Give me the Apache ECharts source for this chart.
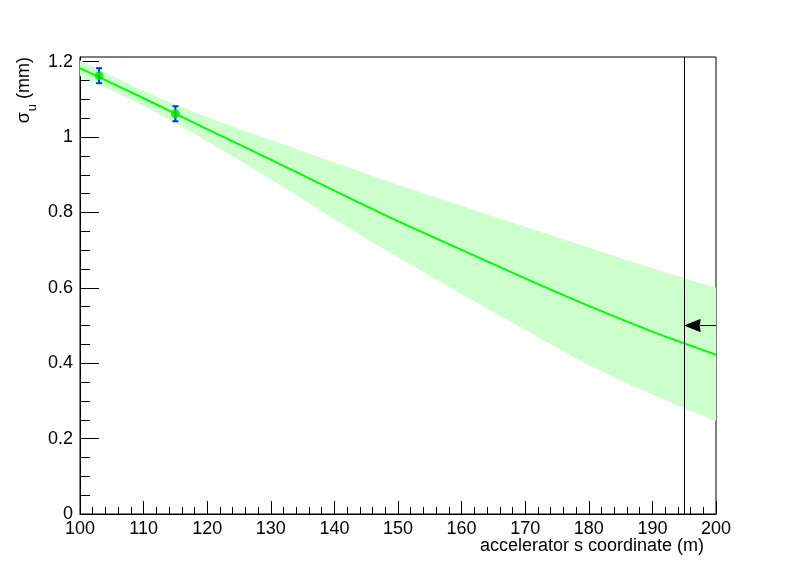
<!DOCTYPE html>
<html>
<head>
<meta charset="utf-8">
<script src="https://cdn.jsdelivr.net/npm/echarts@6/dist/echarts.min.js"></script>
<style>
html,body{margin:0;padding:0;background:#fff;}
#chart{width:796px;height:572px;}
</style>
</head>
<body>
<div id="chart"></div>
<script>
// ---- data ----
const sGrid      = [100, 110, 120, 130, 140, 150, 160, 170, 180, 190, 200];
const fitSigma   = [1.183, 1.103, 1.021, 0.940, 0.858, 0.777, 0.701, 0.625, 0.552, 0.484, 0.423];
const bandUpper  = [1.204, 1.123, 1.053, 0.992, 0.933, 0.873, 0.818, 0.762, 0.707, 0.652, 0.600];
const bandLower  = [1.162, 1.083, 0.989, 0.888, 0.783, 0.681, 0.584, 0.489, 0.395, 0.317, 0.246];
const measS      = [103, 115];
const measSigma  = [1.163, 1.062];
const measErr    = [0.02, 0.02];
const markerS    = 195;
const arrowFromS = 200;
const arrowSigma = 0.5;
const xTicks     = [100, 110, 120, 130, 140, 150, 160, 170, 180, 190, 200];
const yTicks     = [0, 0.2, 0.4, 0.6, 0.8, 1.0, 1.2];
const yMinorTicks= [0.05, 0.1, 0.15, 0.25, 0.3, 0.35, 0.45, 0.5, 0.55, 0.65, 0.7, 0.75,
                    0.85, 0.9, 0.95, 1.05, 1.1, 1.15];
const xRange = [100, 200];
const yRange = [0, 1.2125];

const FONT = 'Liberation Sans, Arial, Helvetica, sans-serif';
const chart = echarts.init(document.getElementById('chart'), null, {renderer: 'canvas'});

// smooth (Catmull-Rom) path segment through screen points
function curveSegs(p) {
  let d = '';
  for (let i = 0; i < p.length - 1; i++) {
    const p0 = p[Math.max(i - 1, 0)], p1 = p[i], p2 = p[i + 1], p3 = p[Math.min(i + 2, p.length - 1)];
    const c1 = [p1[0] + (p2[0] - p0[0]) / 6, p1[1] + (p2[1] - p0[1]) / 6];
    const c2 = [p2[0] - (p3[0] - p1[0]) / 6, p2[1] - (p3[1] - p1[1]) / 6];
    d += ' C' + c1[0] + ',' + c1[1] + ' ' + c2[0] + ',' + c2[1] + ' ' + p2[0] + ',' + p2[1];
  }
  return d;
}

const option = {
  animation: false,
  backgroundColor: '#ffffff',
  grid: {left: 80, right: 80, top: 57, bottom: 58, show: true, borderColor: '#000', borderWidth: 1, backgroundColor: 'transparent'},
  xAxis: {
    type: 'value', min: xRange[0], max: xRange[1], interval: 10,
    axisLine: {show: true, onZero: false, lineStyle: {color: '#000', width: 1}},
    axisTick: {show: true, inside: true, length: 13, lineStyle: {color: '#000'}},
    minorTick: {show: true, splitNumber: 5, length: 7, lineStyle: {color: '#000'}},
    splitLine: {show: false},
    axisLabel: {color: '#000', fontSize: 18, fontFamily: FONT, margin: 6,
      formatter: v => xTicks.includes(v) ? String(v) : ''}
  },
  yAxis: [{
    type: 'value', min: yRange[0], max: yRange[1], position: 'left',
    axisLine: {show: true, onZero: false, lineStyle: {color: '#000', width: 1}},
    axisTick: {show: true, inside: true, length: 19, lineStyle: {color: '#000'}, customValues: yTicks},
    splitLine: {show: false},
    axisLabel: {color: '#000', fontSize: 18, fontFamily: FONT, margin: 7, customValues: yTicks,
      formatter: v => String(Math.round(v * 10) / 10)}
  }, {
    type: 'value', min: yRange[0], max: yRange[1], position: 'left', offset: 0,
    axisLine: {show: false},
    axisTick: {show: true, inside: true, length: 10, lineStyle: {color: '#000'}, customValues: yMinorTicks},
    splitLine: {show: false},
    axisLabel: {show: false}
  }],
  graphic: [
    {type: 'text', x: 704, y: 546, z: 10,
      style: {text: 'accelerator s coordinate (m)', fill: '#000', font: '18px ' + FONT, align: 'right', verticalAlign: 'middle'}},
    {type: 'text', x: 36, y: 57, rotation: Math.PI / 2, z: 10,
      style: {text: '{a|σ}{s|u}{a| (mm)}', align: 'right', verticalAlign: 'bottom',
        rich: {
          a: {fontSize: 18, fontFamily: FONT, fill: '#000', color: '#000', lineHeight: 21, verticalAlign: 'top'},
          s: {fontSize: 13, fontFamily: FONT, fill: '#000', color: '#000', lineHeight: 14, verticalAlign: 'top', padding: [11, 0, 0, 1]}
        }}}
  ],
  series: [
    {
      name: 'band', type: 'custom', clip: true, silent: true, z: 1,
      data: [[sGrid[0], bandLower[0]]],
      renderItem: function (params, api) {
        const up = sGrid.map((s, i) => api.coord([s, bandUpper[i]]));
        const lo = sGrid.map((s, i) => api.coord([s, bandLower[i]])).reverse();
        let d = 'M' + up[0][0] + ',' + up[0][1] + curveSegs(up);
        d += ' L' + lo[0][0] + ',' + lo[0][1] + curveSegs(lo) + ' Z';
        return {type: 'path', shape: {pathData: d}, style: {fill: '#ccffcc', stroke: null}};
      }
    },
    {
      name: 'fit', type: 'line', smooth: 0.3, showSymbol: false, clip: true, z: 2,
      data: sGrid.map((s, i) => [s, fitSigma[i]]),
      lineStyle: {color: '#00ff00', width: 2}
    },
    {
      name: 'errors', type: 'custom', z: 3, silent: true,
      data: measS.map((s, i) => [s, measSigma[i] - measErr[i], measSigma[i] + measErr[i]]),
      renderItem: function (params, api) {
        const lo = api.coord([api.value(0), api.value(1)]);
        const hi = api.coord([api.value(0), api.value(2)]);
        const cw = 3;
        const st = {stroke: '#0a35e0', lineWidth: 2};
        return {type: 'group', children: [
          {type: 'line', shape: {x1: lo[0], y1: lo[1], x2: hi[0], y2: hi[1]}, style: st},
          {type: 'line', shape: {x1: lo[0] - cw, y1: lo[1], x2: lo[0] + cw, y2: lo[1]}, style: st},
          {type: 'line', shape: {x1: hi[0] - cw, y1: hi[1], x2: hi[0] + cw, y2: hi[1]}, style: st}
        ]};
      }
    },
    {
      name: 'points', type: 'scatter', z: 4, symbol: 'circle', symbolSize: 9,
      data: measS.map((s, i) => [s, measSigma[i]]),
      itemStyle: {color: '#00e600'}
    },
    {
      name: 'marker', type: 'line', data: [], z: 5,
      markLine: {
        silent: true, animation: false, label: {show: false}, symbol: 'none',
        data: [[{coord: [markerS, yRange[0]]}, {coord: [markerS, yRange[1]]}]],
        lineStyle: {color: '#000', width: 1, type: 'solid'}
      }
    },
    {
      name: 'arrow', type: 'custom', z: 6, silent: true, clip: false,
      data: [[arrowFromS, markerS, arrowSigma]],
      renderItem: function (params, api) {
        const from = api.coord([api.value(0), api.value(2)]);
        const tip = api.coord([api.value(1), api.value(2)]);
        const len = 16, half = 6;
        const base = tip[0] + len;
        return {type: 'group', children: [
          {type: 'line', shape: {x1: from[0], y1: from[1], x2: base, y2: tip[1]}, style: {stroke: '#000', fill: null, lineWidth: 1}},
          {type: 'polygon', shape: {points: [[tip[0] + 1, tip[1]], [base, tip[1] - half], [base - 1, tip[1]], [base, tip[1] + half]]},
            style: {fill: '#000', stroke: '#000', lineWidth: 1}}
        ]};
      }
    }
  ]
};
chart.setOption(option);
</script>
</body>
</html>
